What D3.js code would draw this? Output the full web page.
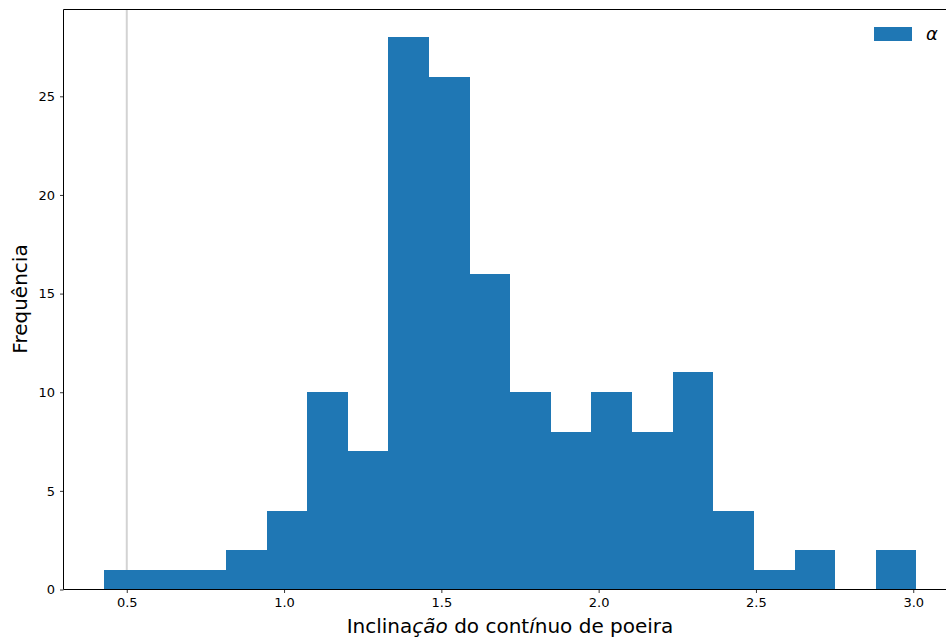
<!DOCTYPE html>
<html>
<head>
<meta charset="utf-8">
<script src="https://cdn.jsdelivr.net/npm/d3@7"></script>
<style>
  html, body { margin: 0; padding: 0; background: #fff; }
  svg { display: block; font-family: "DejaVu Sans", sans-serif; }
</style>
</head>
<body>
<svg id="chart" width="946" height="638"></svg>
<script>
// Histogram of dust continuum slope values (20 equal-width bins)
const binRange = [0.428, 3.010];
const binCounts = [1, 1, 1, 2, 4, 10, 7, 28, 26, 16, 10, 8, 10, 8, 11, 4, 1, 2, 0, 2];
const xTicks = [0.5, 1.0, 1.5, 2.0, 2.5, 3.0];
const yTicks = [0, 5, 10, 15, 20, 25];
const refLine = [0.5];
const seriesLabel = ["α"];

const nBins = binCounts.length;
const binW = (binRange[1] - binRange[0]) / nBins;
const bins = binCounts.map((c, i) => ({
  x0: binRange[0] + i * binW,
  x1: binRange[0] + (i + 1) * binW,
  count: c
}));

const svg = d3.select("#chart");
const margin = { left: 63.5, top: 9.5, right: 957, bottom: 589.5 };

// 5% padding on each side of the data range, like the default autoscale
const span = binRange[1] - binRange[0];
const x = d3.scaleLinear()
  .domain([binRange[0] - 0.05 * span, binRange[1] + 0.05 * span])
  .range([margin.left, margin.right]);
const y = d3.scaleLinear()
  .domain([0, d3.max(binCounts) * 1.05])
  .range([margin.bottom, margin.top]);

// vertical reference line
svg.selectAll("line.ref").data(refLine).join("line")
  .attr("class", "ref")
  .attr("x1", d => x(d)).attr("x2", d => x(d))
  .attr("y1", margin.top).attr("y2", margin.bottom)
  .attr("stroke", "#d3d3d3").attr("stroke-width", 2);

// bars
svg.append("g").selectAll("rect").data(bins).join("rect")
  .attr("x", d => x(d.x0))
  .attr("width", d => x(d.x1) - x(d.x0))
  .attr("y", d => y(d.count))
  .attr("height", d => y(0) - y(d.count))
  .attr("fill", "#1f77b4")
  .attr("shape-rendering", "crispEdges");

// axes
const xAxis = d3.axisBottom(x).tickValues(xTicks).tickFormat(d3.format(".1f"))
  .tickSizeOuter(0).tickSize(3.5).tickPadding(5);
const yAxis = d3.axisLeft(y).tickValues(yTicks).tickFormat(d3.format("d"))
  .tickSizeOuter(0).tickSize(3.5).tickPadding(5);

const gx = svg.append("g").attr("transform", `translate(0,${margin.bottom})`).call(xAxis);
const gy = svg.append("g").attr("transform", `translate(${margin.left},0)`).call(yAxis);
[gx, gy].forEach(g => {
  g.select(".domain").remove();
  g.selectAll(".tick line").attr("stroke", "#000").attr("stroke-width", 0.8);
  g.selectAll(".tick text").attr("fill", "#000").style("font-size", "13px")
    .style("font-family", "DejaVu Sans, sans-serif");
});

// frame
const frame = svg.append("g").attr("fill", "none").attr("stroke", "#000").attr("stroke-width", 1);
frame.append("line").attr("x1", margin.left).attr("x2", margin.right).attr("y1", margin.top).attr("y2", margin.top);
frame.append("line").attr("x1", margin.left).attr("x2", margin.right).attr("y1", margin.bottom).attr("y2", margin.bottom);
frame.append("line").attr("x1", margin.left).attr("x2", margin.left).attr("y1", margin.top).attr("y2", margin.bottom);
frame.append("line").attr("x1", margin.right).attr("x2", margin.right).attr("y1", margin.top).attr("y2", margin.bottom);

// axis titles
const xl = svg.append("text")
  .attr("x", 510).attr("y", 633)
  .attr("text-anchor", "middle")
  .style("font-size", "20px").attr("fill", "#000");
xl.append("tspan").text("Inclina");
xl.append("tspan").style("font-style", "italic").text("ção");
xl.append("tspan").text(" do cont");
xl.append("tspan").style("font-style", "italic").text("í");
xl.append("tspan").text("nuo de poeira");

svg.append("text")
  .attr("transform", "translate(27,299) rotate(-90)")
  .attr("text-anchor", "middle")
  .style("font-size", "20px").attr("fill", "#000")
  .text("Frequência");

// legend
const lg = svg.append("g");
lg.selectAll("rect").data(seriesLabel).join("rect")
  .attr("x", 874).attr("y", 27).attr("width", 38).attr("height", 14)
  .attr("fill", "#1f77b4");
lg.selectAll("text").data(seriesLabel).join("text")
  .attr("x", 926).attr("y", 40)
  .style("font-size", "18px").style("font-style", "italic").attr("fill", "#000")
  .text(d => d);
</script>
</body>
</html>
